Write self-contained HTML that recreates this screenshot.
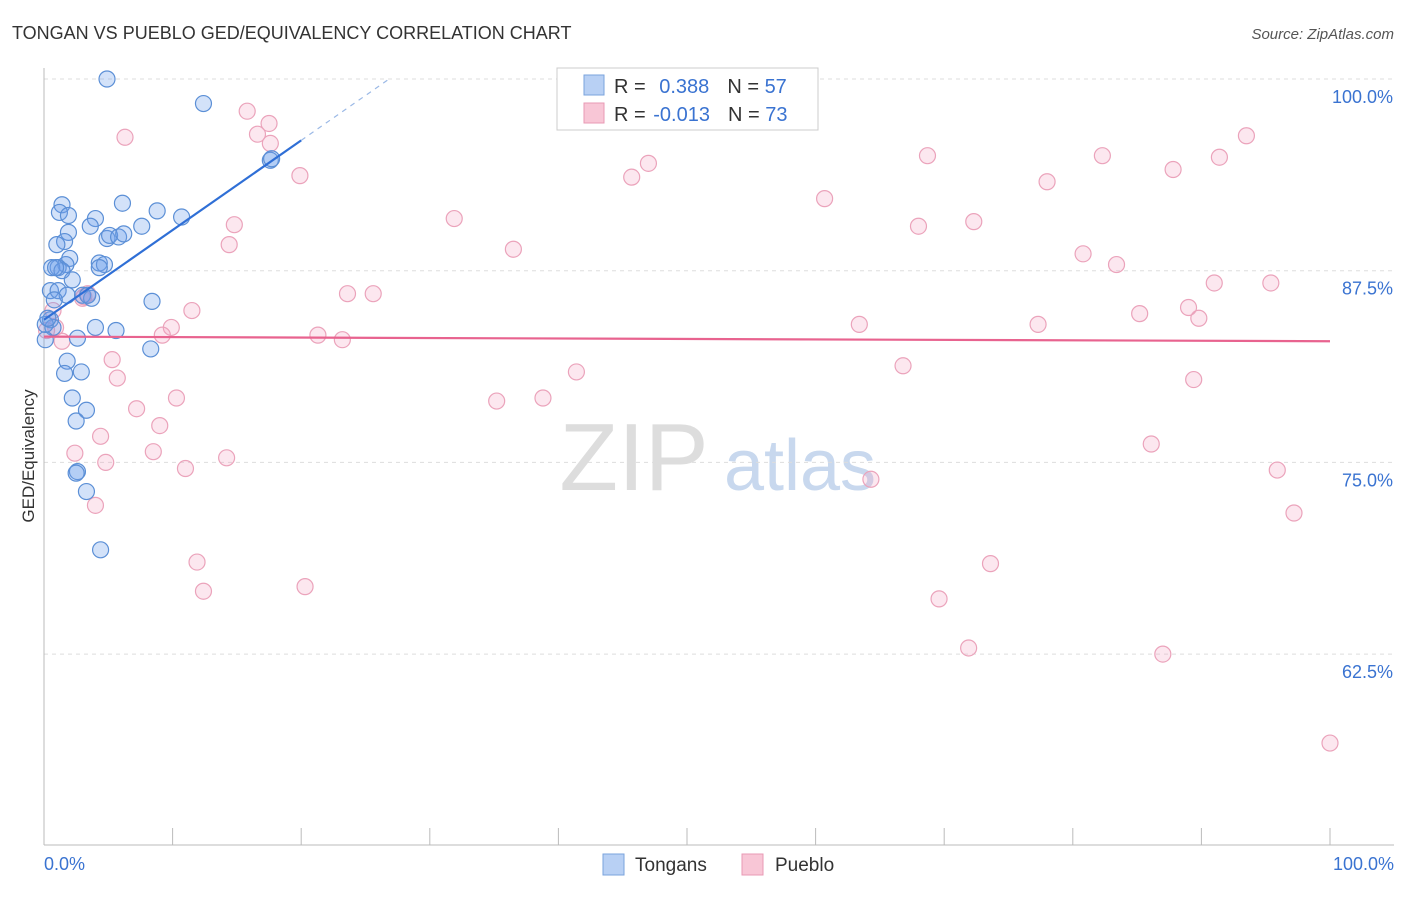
<!DOCTYPE html>
<html><head><meta charset="utf-8"><style>
body{margin:0;background:#fff;font-family:"Liberation Sans",sans-serif;}
svg text{font-family:"Liberation Sans",sans-serif;}
</style></head><body>
<svg id="chart" width="1406" height="892" viewBox="0 0 1406 892">
<text x="12" y="39" font-size="18" fill="#333">TONGAN VS PUEBLO GED/EQUIVALENCY CORRELATION CHART</text>
<text x="1394" y="39" font-size="15" fill="#555" font-style="italic" text-anchor="end">Source: ZipAtlas.com</text>
<g>
<text x="634" y="490" font-size="96" fill="#ddd" font-family="Liberation Serif" text-anchor="middle">ZIP</text>
<text x="800" y="490" font-size="72" fill="#c8d8ee" text-anchor="middle">atlas</text>
</g>
<g id="grid"></g>
<g id="axes"></g>
<g id="marks"></g>
<g>
<rect x="557" y="68" width="261" height="62" fill="#fff" stroke="#ccc"/>
<rect x="584" y="75" width="20" height="20" fill="#b8d0f4" stroke="#7aa3dd"/>
<rect x="584" y="103" width="20" height="20" fill="#f8c6d6" stroke="#e89ab4"/>
<text x="614" y="93" font-size="20" fill="#333">R = <tspan fill="#3a73d1" dx="8">0.388</tspan><tspan fill="#333" dx="18">N = </tspan><tspan fill="#3a73d1">57</tspan></text>
<text x="614" y="121" font-size="20" fill="#333">R = <tspan fill="#3a73d1" dx="2">-0.013</tspan><tspan fill="#333" dx="18">N = </tspan><tspan fill="#3a73d1">73</tspan></text>
</g>
<g>
<rect x="603" y="854" width="21" height="21" fill="#b8d0f4" stroke="#7aa3dd"/>
<text x="635" y="871" font-size="19" fill="#333">Tongans</text>
<rect x="742" y="854" width="21" height="21" fill="#f8c6d6" stroke="#e89ab4"/>
<text x="775" y="871" font-size="19" fill="#333">Pueblo</text>
</g>
<text transform="translate(34,456) rotate(-90)" font-size="17" fill="#333" text-anchor="middle">GED/Equivalency</text>
</svg>
<script>
const yTicks=[100,87.5,75,62.5];
const yTickLabels=["100.0%","87.5%","75.0%","62.5%"];
const xTickLabels=["0.0%","100.0%"];
const blueX=[4.9,12.4,17.6,17.7,6.1,8.8,10.7,1.4,1.2,1.9,4.0,7.6,3.6,1.9,1.6,1.0,4.9,5.1,5.8,6.2,2.0,1.7,1.1,0.6,1.4,4.3,4.7,4.3,2.2,0.5,1.1,1.8,3.0,3.7,8.4,0.5,0.7,4.0,5.6,2.6,0.1,8.3,1.8,1.6,2.9,2.2,3.3,2.5,2.6,2.5,3.3,4.4,0.1,0.3,0.9,0.8,3.4];
const blueY=[100.0,98.4,94.7,94.8,91.9,91.4,91.0,91.8,91.3,91.1,90.9,90.4,90.4,90.0,89.4,89.2,89.6,89.8,89.7,89.9,88.3,87.9,87.7,87.7,87.5,88.0,87.9,87.7,86.9,86.2,86.2,85.9,85.9,85.7,85.5,84.3,83.8,83.8,83.6,83.1,83.0,82.4,81.6,80.8,80.9,79.2,78.4,77.7,74.4,74.3,73.1,69.3,84.0,84.4,87.7,85.6,85.9];
const pinkX=[6.3,15.8,17.5,16.6,17.6,19.9,14.8,14.4,31.9,36.5,45.7,47.0,60.7,68.7,68.0,72.3,78.0,82.3,87.8,91.4,93.5,80.8,83.4,91.0,95.4,23.6,25.6,11.5,9.9,9.2,21.3,23.2,63.4,77.3,85.2,89.0,89.8,3.4,3.0,0.9,1.4,0.7,5.3,5.7,41.4,66.8,89.4,35.2,38.8,10.3,7.2,9.0,4.4,8.5,2.4,4.8,11.0,14.2,64.3,86.1,95.9,97.2,4.0,11.9,12.4,20.3,69.6,73.6,71.9,87.0,100,3.1,0.2];
const pinkY=[96.2,97.9,97.1,96.4,95.8,93.7,90.5,89.2,90.9,88.9,93.6,94.5,92.2,95.0,90.4,90.7,93.3,95.0,94.1,94.9,96.3,88.6,87.9,86.7,86.7,86.0,86.0,84.9,83.8,83.3,83.3,83.0,84.0,84.0,84.7,85.1,84.4,86.0,85.7,83.8,82.9,84.9,81.7,80.5,80.9,81.3,80.4,79.0,79.2,79.2,78.5,77.4,76.7,75.7,75.6,75.0,74.6,75.3,73.9,76.2,74.5,71.7,72.2,68.5,66.6,66.9,66.1,68.4,62.9,62.5,56.7,85.8,83.6];
const blueTrend=[84.3,0.585];
const pinkTrend=[83.2,-0.003];
const X0=44,X1=1330,Y100=79,PX_PER_PCT=191.7/12.5;
const sx=v=>X0+(X1-X0)*v/100;
const sy=v=>Y100+(100-v)*PX_PER_PCT;
const NS="http://www.w3.org/2000/svg";
function mk(tag,attrs,parent){const e=document.createElementNS(NS,tag);for(const k in attrs)e.setAttribute(k,attrs[k]);parent.appendChild(e);return e;}
const grid=document.getElementById('grid'),axes=document.getElementById('axes'),marks=document.getElementById('marks');
yTicks.forEach((t,i)=>{
 const l=mk('line',{x1:44,x2:1394,y1:sy(t),y2:sy(t),stroke:'#ddd','stroke-dasharray':'4,4'},grid);
 
 
 const tx=mk('text',{x:1393,y:sy(t)+24,'font-size':18,fill:'#3a73d1','text-anchor':'end'},axes);
 tx.textContent=yTickLabels[i];
 
 
});
const yAxis=mk('line',{x1:44,x2:44,y1:68,y2:845,stroke:'#bbb'},axes);


const xAxis=mk('line',{x1:44,x2:1394,y1:845,y2:845,stroke:'#bbb'},axes);


for(let i=0;i<=10;i++){
 const tk=mk('line',{x1:sx(i*10),x2:sx(i*10),y1:828,y2:845,stroke:'#bbb'},axes);
 
 
}
const xl0=mk('text',{x:44,y:870,'font-size':18,fill:'#3a73d1'},axes);xl0.textContent=xTickLabels[0];


const xl1=mk('text',{x:1394,y:870,'font-size':18,fill:'#3a73d1','text-anchor':'end'},axes);xl1.textContent=xTickLabels[1];


pinkX.forEach((x,i)=>{
 const c=mk('circle',{cx:sx(x),cy:sy(pinkY[i]),r:8,fill:'rgba(244,160,190,0.25)',stroke:'#eba3bb','stroke-width':1.2},marks);
 
 
});
blueX.forEach((x,i)=>{
 const c=mk('circle',{cx:sx(x),cy:sy(blueY[i]),r:8,fill:'rgba(110,160,235,0.3)',stroke:'#5b8fd6','stroke-width':1.2},marks);
 
 
});
const bx2=20,bxEnd=(100-blueTrend[0])/blueTrend[1];
const bl=mk('line',{x1:sx(0),y1:sy(blueTrend[0]),x2:sx(bx2),y2:sy(blueTrend[0]+blueTrend[1]*bx2),stroke:'#2f6fd6','stroke-width':2.2},marks);


const bd=mk('line',{x1:sx(bx2),y1:sy(blueTrend[0]+blueTrend[1]*bx2),x2:sx(bxEnd),y2:sy(100),stroke:'#9bb9e6','stroke-width':1.2,'stroke-dasharray':'5,5'},marks);


const pl=mk('line',{x1:sx(0),y1:sy(pinkTrend[0]),x2:sx(100),y2:sy(pinkTrend[0]+pinkTrend[1]*100),stroke:'#e8638f','stroke-width':2.2},marks);


</script>
</body></html>
